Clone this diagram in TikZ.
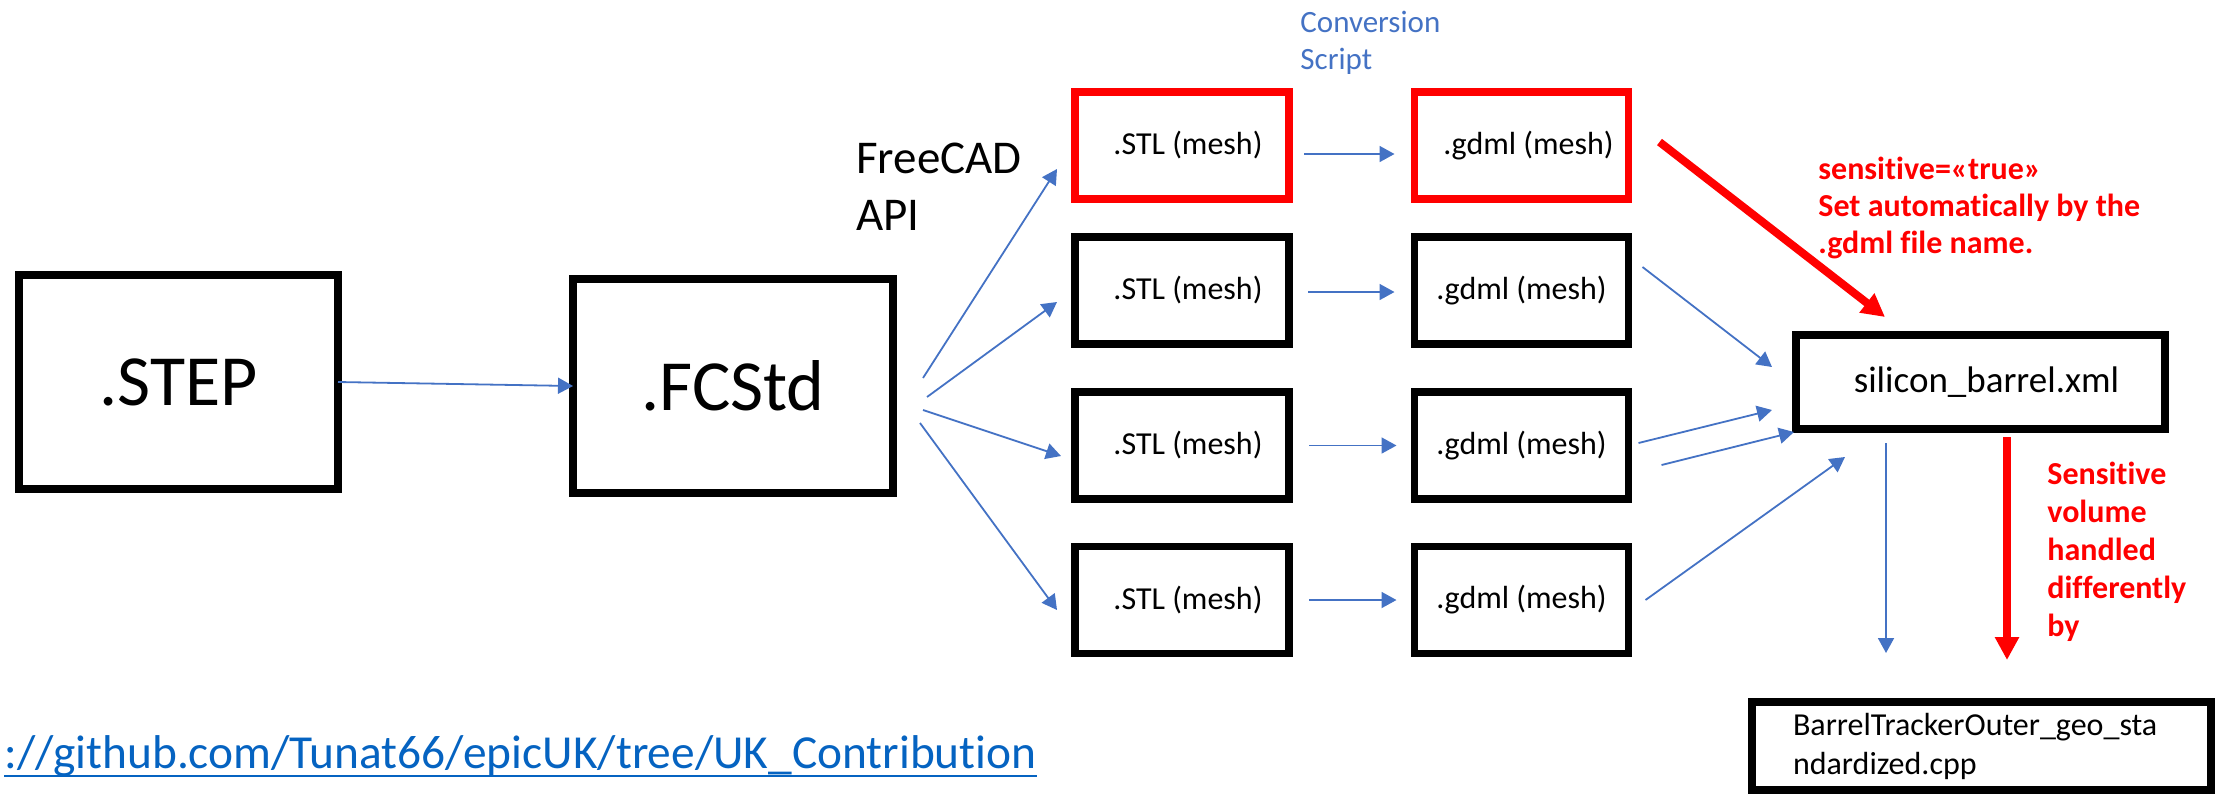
\documentclass[tikz,border=0pt]{standalone}
\usepackage{fontspec}
\setmainfont{Carlito}[Ligatures=NoCommon]
\usetikzlibrary{arrows.meta,calc}
\definecolor{cblue}{HTML}{4472C4}
\definecolor{cred}{HTML}{FF0000}
\definecolor{clink}{HTML}{0563C1}
\begin{document}
\begin{tikzpicture}[x=0.5pt,y=-0.5pt,
  box/.style={draw=black,line width=3.75pt,outer sep=0pt,inner sep=0pt},
  redbox/.style={box,draw=cred},
  bigbox/.style={box,minimum width=160pt,minimum height=107pt,font=\fontsize{36}{43}\selectfont},
  smallbox/.style={box,minimum width=107pt,minimum height=53.5pt,font=\fontsize{16}{19.5}\selectfont},
  lbl/.style={anchor=base west,align=left,inner sep=0pt},
  conn/.style={draw=cblue,line width=0.9pt,-{Triangle[length=7.5pt,width=8pt]}},
  redconn/.style={draw=cred,line width=4pt,-{Triangle[length=11.5pt,width=11.5pt]}}]

\useasboundingbox (0,0) rectangle (2216,794);

% main boxes
\node[bigbox,minimum width=159.5pt] (step) at (178.5,382) {.STEP};
\node[bigbox] (fcstd) at (733,386) {.FCStd};

% STL / gdml boxes
\node[smallbox,redbox] (stl1) at (1182,145.5) {\hspace*{6pt}.STL (mesh)};
\node[smallbox] (stl2) at (1182,290.5) {\hspace*{6pt}.STL (mesh)};
\node[smallbox] (stl3) at (1182,445.5) {\hspace*{6pt}.STL (mesh)};
\node[smallbox] (stl4) at (1182,600) {\hspace*{6pt}.STL (mesh)};
\node[smallbox,redbox] (gdml1) at (1521.5,145.5) {\hspace*{7pt}.gdml (mesh)};
\node[smallbox] (gdml2) at (1521.5,290.5) {.gdml (mesh)};
\node[smallbox] (gdml3) at (1521.5,445.5) {.gdml (mesh)};
\node[smallbox] (gdml4) at (1521.5,600) {.gdml (mesh)};

% right side boxes
\node[box,minimum width=184.5pt,minimum height=47pt,font=\fontsize{18.5}{22}\selectfont] (silicon) at (1980.5,382) {\hspace*{6pt}silicon\_barrel.xml};
\node[box,minimum width=229.5pt,minimum height=44pt,text width=188.5pt,inner xsep=20.5pt,align=left,font=\fontsize{16}{19.5}\selectfont] (barrel) at (1981.5,746) {BarrelTrackerOuter\_geo\_sta\\ndardized.cpp};

% labels (anchored at the baseline of their last line)
\node[lbl,font=\fontsize{23.5}{28.5}\selectfont] (api) at (856,230) {FreeCAD\\API};
\node[lbl,text=cblue,font=\fontsize{15.5}{18.5}\selectfont] (conv) at (1300,69) {Conversion\\Script};
\node[lbl,text=cred,font=\fontsize{16}{18.5}\selectfont\bfseries] (sens) at (1818,253) {sensitive=«true»\\Set automatically by the\\.gdml file name.};
\node[lbl,text=cred,font=\fontsize{16}{19}\selectfont\bfseries] (handled) at (2047,636) {Sensitive\\volume\\handled\\differently\\by};
\node[anchor=base east,inner sep=0pt,text=clink,font=\fontsize{23.7}{28}\selectfont] (url) at (1037,768) {://github.com/Tunat66/epicUK/tree/UK\_Contribution};
\draw[clink,line width=1.2pt] ([yshift=-4pt]url.base west) -- ([yshift=-4pt]url.base east);

% connectors
\draw[conn] (step.east) -- (fcstd.west);
\draw[conn] ($(fcstd.east)+(30,-8)$) -- ($(stl1.west)+(-18,23.5)$);
\draw[conn] ($(fcstd.east)+(34,11)$) -- ($(stl2.west)+(-18,11.5)$);
\draw[conn] ($(fcstd.east)+(30,24)$) -- ($(stl3.west)+(-14,10.5)$);
\draw[conn] ($(fcstd.east)+(27,37)$) -- ($(stl4.west)+(-18,10)$);

\draw[conn] ($(stl1.east)+(15,8.5)$) -- ($(gdml1.west)+(-20,8.5)$);
\draw[conn] ($(stl2.east)+(19,1.5)$) -- ($(gdml2.west)+(-20,1.5)$);
\draw[conn] ($(stl3.east)+(20,0)$) -- ($(gdml3.west)+(-18,0)$);
\draw[conn] ($(stl4.east)+(20,0)$) -- ($(gdml4.west)+(-18,0)$);

\draw[conn] ($(gdml2.east)+(14,-23.5)$) -- ($(silicon.west)+(-24,-15)$);
\draw[conn] ($(gdml3.east)+(10,-2.5)$) -- ($(silicon.west)+(-24,28)$);
\draw[conn] ($(gdml3.east)+(33,19.5)$) -- ($(silicon.south west)+(-2,3)$);
\draw[conn] ($(gdml4.east)+(17,0)$) -- ($(silicon.south west)+(49,28)$);
\draw[conn] ($(silicon.south west)+(90,14)$) -- ($(barrel.north west)+(134,-49)$);

\draw[redconn] ($(silicon.south west)+(211,8)$) -- ($(barrel.north west)+(255,-42)$);
\draw[redconn] ($(gdml1.east)+(31,-3.5)$) -- ($(silicon.north west)+(89,-18)$);
\end{tikzpicture}
\end{document}
